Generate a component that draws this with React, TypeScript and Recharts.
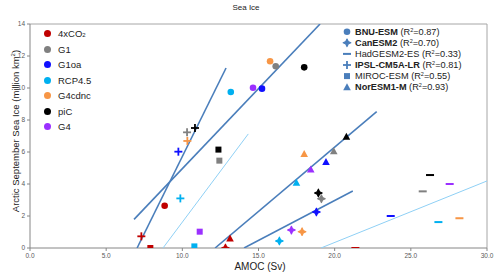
import React from 'react';
import { ComposedChart, Scatter, XAxis, YAxis, ReferenceLine } from 'recharts';

const scenarios = ['4xCO2', 'G1', 'G1oa', 'RCP4.5', 'G4cdnc', 'piC', 'G4'];
const scenarioColors = ['#c00000', '#808080', '#1010ff', '#00b0f0', '#f79646', '#000000', '#9b30ff'];

const models = ['BNU-ESM', 'CanESM2', 'HadGESM2-ES', 'IPSL-CM5A-LR', 'MIROC-ESM', 'NorESM1-M'];
const modelR2 = ['0.87', '0.70', '0.33', '0.81', '0.55', '0.93'];
const modelShapes = ['circle', 'diamond', 'dash', 'plus', 'square', 'triangle'];
const modelBold = [true, true, false, true, false, true];

// AMOC (Sv) and sea ice (million km2), in scenario order; null = not shown
const bnuAmoc = [8.84, 16.13, 15.23, 13.18, 15.76, 18.0, 14.64];
const bnuIce = [2.64, 11.36, 9.96, 9.75, 11.67, 11.29, 10.02];
const canAmoc = [12.83, 19.13, 18.8, 16.37, 17.86, 18.93, 17.16];
const canIce = [0.0, 3.08, 2.25, 0.44, 1.02, 3.44, 1.12];
const hadAmoc = [21.36, 25.78, 23.68, 26.81, 28.19, 26.26, 27.55];
const hadIce = [0.0, 3.54, 2.0, 1.62, 1.86, 4.56, 4.0];
const ipslAmoc = [7.31, 10.31, 9.74, 9.87, 10.33, 10.83, null];
const ipslIce = [0.73, 7.23, 6.02, 3.1, 6.69, 7.5, null];
const mirocAmoc = [7.9, 12.43, null, 10.79, null, 12.37, 11.14];
const mirocIce = [0.0, 5.46, null, 0.1, null, 6.15, 1.02];
const norAmoc = [13.13, 19.94, 19.43, 17.49, 18.0, 20.77, 18.43];
const norIce = [0.6, 6.04, 5.38, 4.08, 5.88, 6.96, 4.9];

const modelAmoc = [bnuAmoc, canAmoc, hadAmoc, ipslAmoc, mirocAmoc, norAmoc];
const modelIce = [bnuIce, canIce, hadIce, ipslIce, mirocIce, norIce];

// regression line endpoints [x0, y0, x1, y1]
const bnuFit = [6.83, 1.79, 19.04, 14.0];
const canFit = [14.05, 0.0, 21.19, 3.56];
const hadFit = [19.1, 0.0, 30.0, 4.19];
const ipslFit = [7.03, 0.0, 12.87, 11.25];
const mirocFit = [8.73, 0.0, 14.33, 7.13];
const norFit = [12.15, 0.0, 22.76, 8.52];
const modelFits = [bnuFit, canFit, hadFit, ipslFit, mirocFit, norFit];
const fitLight = [false, false, true, false, true, false];

const xTicks = [0, 5, 10, 15, 20, 25, 30];
const yTicks = [0, 2, 4, 6, 8, 10, 12, 14];

const DARK = '#4a7ebb';
const LIGHT = '#8fd0f5';
const FONT = '"Liberation Sans", Arial, sans-serif';

function Marker({ kind, cx, cy, fill }: { kind: string; cx: number; cy: number; fill: string }) {
  if (cx == null || cy == null) return <g />;
  switch (kind) {
    case 'circle':
      return <circle cx={cx} cy={cy} r={3.3} fill={fill} />;
    case 'diamond':
      return (
        <path
          d={`M${cx},${cy - 3.8} L${cx + 1.2},${cy - 1.2} L${cx + 3.8},${cy} L${cx + 1.2},${cy + 1.2} L${cx},${cy + 3.8} L${cx - 1.2},${cy + 1.2} L${cx - 3.8},${cy} L${cx - 1.2},${cy - 1.2} Z`}
          fill={fill}
          stroke={fill}
          strokeWidth={1.2}
          strokeLinejoin="round"
        />
      );
    case 'dash':
      return <rect x={cx - 4} y={cy - 1} width={8} height={2} fill={fill} />;
    case 'plus':
      return (
        <g stroke={fill} strokeWidth={1.8}>
          <line x1={cx - 4} y1={cy} x2={cx + 4} y2={cy} />
          <line x1={cx} y1={cy - 4} x2={cx} y2={cy + 4} />
        </g>
      );
    case 'square':
      return <rect x={cx - 3} y={cy - 3} width={6} height={6} fill={fill} />;
    case 'triangle':
      return <path d={`M${cx},${cy - 4} L${cx + 3.8},${cy + 3} L${cx - 3.8},${cy + 3} Z`} fill={fill} />;
    default:
      return <g />;
  }
}

function buildPoints(mi: number) {
  const out: { x: number; y: number; c: string }[] = [];
  modelAmoc[mi].forEach((x, i) => {
    const y = modelIce[mi][i];
    if (x != null && y != null) out.push({ x: x as number, y: y as number, c: scenarioColors[i] });
  });
  return out;
}

function buildFit(mi: number) {
  const f = modelFits[mi];
  return [
    { x: f[0], y: f[1] },
    { x: f[2], y: f[3] },
  ];
}

export default function App() {
  return (
    <div style={{ position: 'absolute', left: 0, top: 0, width: 500, height: 279, background: '#fff', fontFamily: FONT }}>
      <ComposedChart width={500} height={279} margin={{ top: 24, right: 13, bottom: 0, left: 0 }}>
        <XAxis
          type="number"
          dataKey="x"
          domain={[0, 30]}
          ticks={xTicks}
          tickFormatter={(v: number) => v.toFixed(1)}
          height={31}
          stroke="#868686"
          tickSize={3}
          tick={{ fontSize: 6.5, fill: '#595959', fontFamily: FONT }}
          allowDataOverflow
        />
        <YAxis
          type="number"
          dataKey="y"
          domain={[0, 14]}
          ticks={yTicks}
          width={30}
          stroke="#868686"
          tickSize={3}
          tick={{ fontSize: 6.5, fill: '#595959', fontFamily: FONT }}
          allowDataOverflow
        />
        <ReferenceLine y={14} stroke="#a6a6a6" strokeWidth={1} />
        <ReferenceLine x={30} stroke="#a6a6a6" strokeWidth={1} />
        {models.map((m, mi) => (
          <Scatter
            key={'fit' + m}
            data={buildFit(mi)}
            line={{ stroke: fitLight[mi] ? LIGHT : DARK, strokeWidth: fitLight[mi] ? 1 : 1.6 }}
            lineType="joint"
            shape={() => <g />}
            isAnimationActive={false}
          />
        ))}
        {models.map((m, mi) => (
          <Scatter
            key={'pts' + m}
            data={buildPoints(mi)}
            isAnimationActive={false}
            shape={(p: any) => <Marker kind={modelShapes[mi]} cx={p.cx} cy={p.cy} fill={p.payload.c} />}
          />
        ))}
      </ComposedChart>

      <div style={{ position: 'absolute', left: 0, width: 500, top: 3, textAlign: 'center', fontSize: 8, color: '#222', paddingLeft: 0 }}>
        <span style={{ position: 'relative', left: -4 }}>Sea Ice</span>
      </div>
      <div style={{ position: 'absolute', left: 160, width: 200, top: 261, textAlign: 'center', fontSize: 10, color: '#222' }}>AMOC (Sv)</div>
      <div
        style={{
          position: 'absolute',
          left: 13 - 110,
          top: 131 - 7,
          width: 220,
          height: 14,
          textAlign: 'center',
          fontSize: 9.5,
          lineHeight: '14px',
          color: '#222',
          transform: 'rotate(-90deg)',
          whiteSpace: 'nowrap',
        }}
      >
        Arctic September Sea Ice (million km<sup style={{ fontSize: 6 }}>2</sup>)
      </div>

      {scenarios.map((s, i) => (
        <div key={s} style={{ position: 'absolute', left: 44, top: 33.7 + i * 15.5 - 7, height: 14, display: 'flex', alignItems: 'center', fontSize: 9.5, color: '#222' }}>
          <span style={{ display: 'inline-block', width: 7, height: 7, borderRadius: 4, background: scenarioColors[i], marginRight: 7 }} />
          {s === '4xCO2' ? (
            <span>
              4xCO<span style={{ fontSize: 6 }}>2</span>
            </span>
          ) : (
            s
          )}
        </div>
      ))}

      <svg style={{ position: 'absolute', left: 0, top: 0 }} width={500} height={279}>
        {models.map((m, mi) => {
          const y = 31.7 + mi * 11.1;
          return (
            <g key={m}>
              <Marker kind={modelShapes[mi]} cx={347} cy={y} fill={DARK} />
              <text x={355} y={y + 3} fontSize={9.2} fontFamily={FONT} fill="#222">
                <tspan fontWeight={modelBold[mi] ? 'bold' : 'normal'}>{m}</tspan>
                <tspan> (R</tspan>
                <tspan fontSize={5.5} dy={-3}>2</tspan>
                <tspan dy={3}>={modelR2[mi]})</tspan>
              </text>
            </g>
          );
        })}
      </svg>
    </div>
  );
}
